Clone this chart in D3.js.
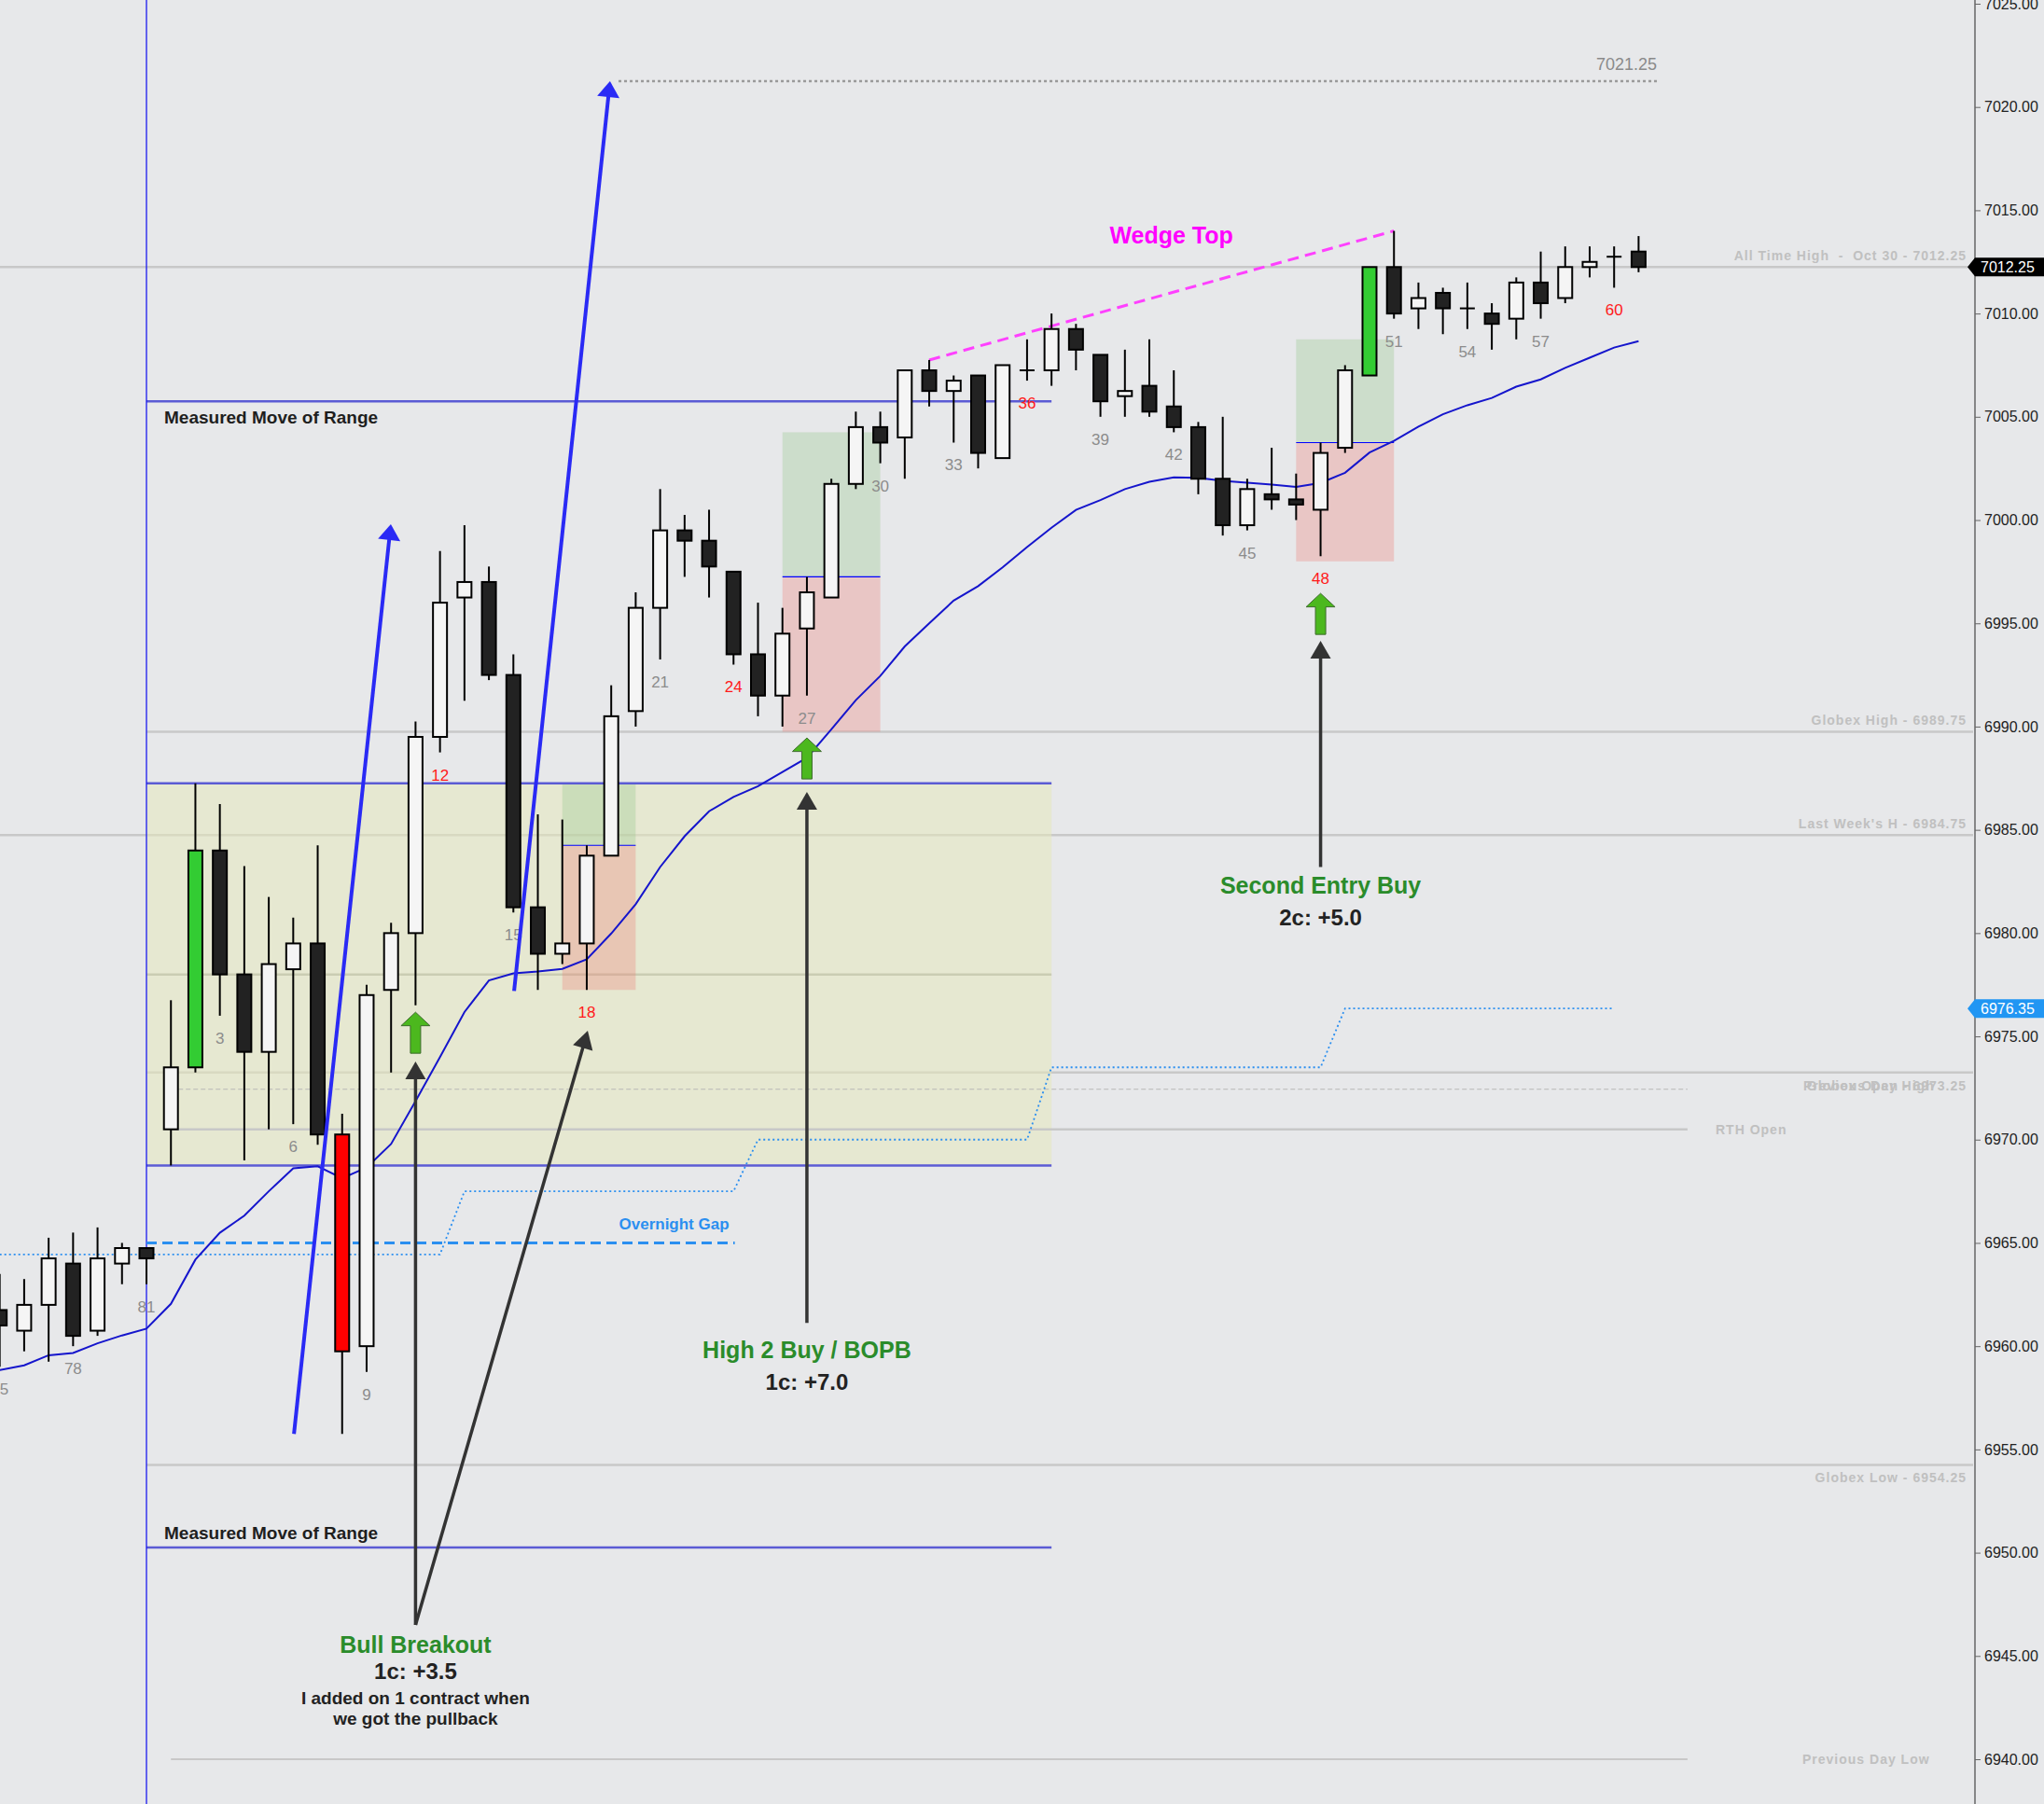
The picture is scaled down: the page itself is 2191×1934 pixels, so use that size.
<!DOCTYPE html>
<html><head><meta charset="utf-8">
<script src="https://cdn.jsdelivr.net/npm/d3@7"></script>
<style>html,body{margin:0;padding:0;background:#e7e8ea;overflow:hidden}svg{display:block;font-family:"Liberation Sans",Arial,sans-serif}</style>
</head><body><svg id="c" width="2191" height="1934"></svg>
<script>
// ---------- DATA ----------
const barIndex = d3.range(-6, 62); // -6..0 = prior session bars 75..81, 1..61 = today
const barNumbers = barIndex.map(i => i <= 0 ? 81 + i : i);
const opens = [6961.75,6960.75,6962.0,6964.0,6960.75,6964.0,6964.75,
 6970.5,6973.5,6984.0,6978.0,6974.25,6978.25,6979.5,6970.25,6960.0,6977.25,
 6980.0,6989.5,6996.25,6997.0,6992.5,6981.25,6979.0,6979.5,6983.75,6990.75,
 6995.75,6999.5,6999.0,6997.5,6993.5,6991.5,6994.75,6996.25,7001.75,7004.5,
 7004.0,7007.25,7006.25,7007.0,7003.0,7007.25,7007.25,7009.25,7008.0,7006.0,
 7006.5,7005.5,7004.5,7002.0,6999.75,7001.25,7001.0,7000.5,7003.5,7007.0,
 7012.25,7010.25,7011.0,7010.25,7010.0,7009.75,7011.5,7010.75,7012.25,7012.75,7013.0];
const highs = [6963.5,6963.25,6965.25,6965.5,6965.75,6965.0,6964.75,
 6976.75,6987.25,6986.25,6983.25,6981.75,6980.75,6984.25,6971.25,6977.5,6980.5,
 6990.25,6998.5,6999.75,6997.75,6993.5,6985.75,6985.5,6984.25,6992.0,6996.5,
 7001.5,7000.25,7000.5,6997.5,6996.0,6995.75,6997.25,7002.0,7005.25,7005.25,
 7007.25,7007.75,7007.0,7007.0,7007.5,7008.75,7010.0,7009.5,7008.0,7008.25,
 7008.75,7007.25,7004.75,7005.0,7002.0,7003.5,7002.25,7003.75,7007.5,7012.25,
 7014.0,7011.5,7011.25,7011.5,7010.5,7011.75,7013.0,7013.25,7013.25,7013.25,7013.75];
const lows = [6959.0,6959.75,6959.25,6960.0,6960.5,6963.0,6963.0,
 6968.75,6973.25,6976.0,6969.0,6970.5,6970.75,6969.75,6955.75,6958.75,6973.25,
 6976.5,6988.75,6991.25,6992.25,6981.0,6977.25,6978.5,6977.25,6983.75,6990.0,
 6993.25,6997.25,6996.25,6993.0,6990.5,6990.0,6991.5,6996.25,7001.5,7002.75,
 7002.0,7005.5,7003.75,7002.5,7003.0,7006.75,7006.5,7007.25,7005.0,7005.0,
 7005.0,7004.25,7001.25,6999.25,6999.5,7000.5,7000.0,6998.25,7003.25,7007.0,
 7009.75,7009.25,7009.0,7009.25,7008.25,7008.75,7009.75,7010.5,7011.75,7011.25,7012.0];
const closes = [6961.0,6962.0,6964.25,6960.5,6964.25,6964.75,6964.25,
 6973.5,6984.0,6978.0,6974.25,6978.5,6979.5,6970.25,6959.75,6977.0,6980.0,
 6989.5,6996.0,6997.0,6992.5,6981.25,6979.0,6979.5,6983.75,6990.5,6995.75,
 6999.5,6999.0,6997.75,6993.5,6991.5,6994.5,6996.5,7001.75,7004.5,7003.75,
 7007.25,7006.25,7006.75,7003.25,7007.5,7007.25,7009.25,7008.25,7005.75,7006.25,
 7005.25,7004.5,7002.0,6999.75,7001.5,7001.0,7000.75,7003.25,7007.25,7012.25,
 7010.0,7010.75,7010.25,7010.25,7009.5,7011.5,7010.5,7012.25,7012.5,7012.75,7012.25];
const emaValues = [6958.84,6959.07,6959.56,6959.67,6960.14,6960.52,6960.85,
 6962.05,6964.19,6965.49,6966.32,6967.5,6968.61,6968.71,6968.13,6968.65,6969.79,
 6971.86,6974.0,6976.18,6977.71,6978.05,6978.14,6978.27,6978.73,6979.98,6981.4,
 6983.2,6984.69,6985.9,6986.59,6987.11,6987.8,6988.49,6989.87,6991.28,6992.45,
 6993.88,6995.0,6996.1,6996.8,6997.71,6998.69,6999.63,7000.49,7000.97,7001.5,
 7001.85,7002.07,7002.05,7001.9,7001.81,7001.72,7001.61,7001.8,7002.29,7003.27,
 7003.83,7004.52,7005.12,7005.56,7005.91,7006.46,7006.81,7007.37,7007.86,7008.35,7008.66];
const specialColors = {2:'#33cc33', 8:'#ff0000', 50:'#33cc33'};
const redLabelBars = [12,18,24,36,48,60];

// price levels (gray, to the price axis)
const levelNames  = ["All Time High  -  Oct 30 - 7012.25","Last Week's H - 6984.75","Globex High - 6989.75","Globex Open - 6973.25","Globex Low - 6954.25"];
const levelValues = [7012.25, 6984.75, 6989.75, 6973.25, 6954.25];
const levelFromEdge = [true, true, false, false, false];
const levelLabelAbove = [true, true, true, false, false];
// short session levels
const rthOpen = 6970.5, globexOpenDash = 6972.44, prevDayLow = 6940.0;
// opening range & measured moves
const rangeHigh = 6987.25, rangeLow = 6968.75, rangeMid = 6978.0;
const mmUp = 7005.75, mmDown = 6950.25;
const overnightGap = 6965.0;
// dotted step line (hourly)
const stepBars   = [-6, 12, 13, 24, 25, 36, 37, 48, 49, 60];
const stepValues = [6964.44,6964.44,6967.5,6967.5,6970.0,6970.0,6973.5,6973.5,6976.35,6976.35];
// trade boxes
const boxStart = [17, 26, 47], boxEnd = [20, 30, 51];
const boxEntry = [6984.25, 6997.25, 7003.75];
const boxTop = [6987.25, 7004.25, 7008.75];
const boxBottom = [6977.25, 6989.75, 6998.0];
// measured move arrows [bar0, price0, bar1, price1]
const mmArrows = [[6.03, 6955.75, 9.99, 6999.8], [15.03, 6977.2, 18.95, 7021.25]];
const target = 7021.25;
// wedge
const wedge = [32, 7007.75, 51, 7014.0];
// black arrows [bar0, price0, bar1, price1]
const blackArrows = [[11, 6946.5, 11, 6973.78],[11, 6946.5, 18.04, 6975.27],[27, 6961.13, 27, 6986.84],[48, 6983.2, 48, 6994.15]];
const greenArrowBars = [11, 27, 48], greenArrowTips = [6976.17, 6989.45, 6996.45];
const priceTicks = d3.range(6940, 7025.01, 5);
const lastPrice = 7012.25, bluePrice = 6976.35;

// ---------- SCALES ----------
const W = 2191, H = 1934, AX = 2117;
const x = d3.scaleLinear().domain([-6, 61]).range([157 - 6*26.22, 157 + 61*26.22]);
const y = d3.scaleLinear().domain([6940, 7025]).range([1886, 4]);

const svg = d3.select('#c');
svg.append('rect').attr('width', W).attr('height', H).attr('fill', '#e7e8ea');

const gray = '#c8c8c8', labelGray = '#c0c0c0';
// gray level lines
const lv = svg.append('g');
levelValues.forEach((v, k) => {
  lv.append('line').attr('x1', levelFromEdge[k] ? 0 : x(0)).attr('x2', AX - 2)
    .attr('y1', y(v)).attr('y2', y(v)).attr('stroke', gray).attr('stroke-width', 2.5);
});

// opening range box
svg.append('rect').attr('x', x(0)).attr('width', x(37) - x(0))
  .attr('y', y(rangeHigh)).attr('height', y(rangeLow) - y(rangeHigh))
  .attr('fill', 'rgba(229,232,188,0.55)');
svg.append('line').attr('x1', x(0)).attr('x2', x(37)).attr('y1', y(rangeMid)).attr('y2', y(rangeMid))
  .attr('stroke', 'rgba(120,125,90,0.25)').attr('stroke-width', 2.5);

// session lines
[[rthOpen, null, 2.5], [globexOpenDash, '5,3', 1], [prevDayLow, null, 2]].forEach(([v, dash, w]) => {
  svg.append('line').attr('x1', x(1)).attr('x2', x(63)).attr('y1', y(v)).attr('y2', y(v))
    .attr('stroke', dash ? '#b8b8b8' : gray).attr('stroke-width', w).attr('stroke-dasharray', dash);
});

// trade boxes
boxStart.forEach((b, k) => {
  svg.append('rect').attr('x', x(b)).attr('width', x(boxEnd[k]) - x(b))
    .attr('y', y(boxTop[k])).attr('height', y(boxEntry[k]) - y(boxTop[k]))
    .attr('fill', 'rgba(141,195,134,0.3)');
  svg.append('rect').attr('x', x(b)).attr('width', x(boxEnd[k]) - x(b))
    .attr('y', y(boxEntry[k])).attr('height', y(boxBottom[k]) - y(boxEntry[k]))
    .attr('fill', 'rgba(238,119,114,0.3)');
  svg.append('line').attr('x1', x(b)).attr('x2', x(boxEnd[k])).attr('y1', y(boxEntry[k])).attr('y2', y(boxEntry[k]))
    .attr('stroke', '#0000ff').attr('stroke-width', 1.2);
});

// range + measured move lines
const rangeBlue = '#5b5bd4';
[rangeHigh, rangeLow, mmUp, mmDown].forEach(v => {
  svg.append('line').attr('x1', x(0)).attr('x2', x(37)).attr('y1', y(v)).attr('y2', y(v))
    .attr('stroke', rangeBlue).attr('stroke-width', 2.5);
});
// session divider
svg.append('line').attr('x1', x(0)).attr('x2', x(0)).attr('y1', 0).attr('y2', H)
  .attr('stroke', '#1a1aee').attr('stroke-width', 1.3);

// overnight gap
svg.append('line').attr('x1', x(0)).attr('x2', x(24.05)).attr('y1', y(overnightGap)).attr('y2', y(overnightGap))
  .attr('stroke', '#2b8ff0').attr('stroke-width', 3).attr('stroke-dasharray', '11,6');
// dotted step line
svg.append('path').datum(stepBars.map((b, k) => [b, stepValues[k]]))
  .attr('d', d3.line().x(d => x(d[0])).y(d => y(d[1])))
  .attr('fill', 'none').attr('stroke', '#2b8ff0').attr('stroke-width', 1.8).attr('stroke-dasharray', '2,3');

// EMA
svg.append('path').datum(barIndex.map((b, k) => [b, emaValues[k]]))
  .attr('d', d3.line().x(d => x(d[0])).y(d => y(d[1])))
  .attr('fill', 'none').attr('stroke', '#1515cc').attr('stroke-width', 2);

// target dotted line
svg.append('line').attr('x1', x(19.3)).attr('x2', x(61.8)).attr('y1', y(target)).attr('y2', y(target))
  .attr('stroke', '#9a9a9a').attr('stroke-width', 2.5).attr('stroke-dasharray', '3,3');
svg.append('text').attr('x', x(61.75)).attr('y', y(target) - 12).attr('text-anchor', 'end')
  .attr('font-size', 18).attr('fill', '#8a8a8a').text(target.toFixed(2));

// wedge line
svg.append('line').attr('x1', x(wedge[0])).attr('y1', y(wedge[1])).attr('x2', x(wedge[2])).attr('y2', y(wedge[3]))
  .attr('stroke', '#ff40ff').attr('stroke-width', 3).attr('stroke-dasharray', '12,7');

// candles
const cg = svg.append('g');
barIndex.forEach((b, k) => {
  const cx = x(b), o = opens[k], c = closes[k];
  cg.append('line').attr('x1', cx).attr('x2', cx).attr('y1', y(highs[k])).attr('y2', y(lows[k]))
    .attr('stroke', '#000').attr('stroke-width', 2);
  if (o === c) {
    cg.append('line').attr('x1', cx - 8).attr('x2', cx + 8).attr('y1', y(o)).attr('y2', y(o))
      .attr('stroke', '#000').attr('stroke-width', 2);
  } else {
    const fill = specialColors[b] || (c > o ? '#f5f5f5' : '#222222');
    cg.append('rect').attr('x', cx - 7.5).attr('width', 15)
      .attr('y', y(Math.max(o, c))).attr('height', Math.max(2, y(Math.min(o, c)) - y(Math.max(o, c))))
      .attr('fill', fill).attr('stroke', '#000').attr('stroke-width', 2);
  }
});
// bar numbers
barIndex.forEach((b, k) => {
  const n = barNumbers[k];
  if (n % 3 !== 0) return;
  svg.append('text').attr('x', x(b)).attr('y', y(lows[k]) + 24).attr('dy', '0.35em')
    .attr('text-anchor', 'middle').attr('font-size', 17)
    .attr('fill', redLabelBars.includes(n) && b > 0 ? '#ff1a1a' : '#8c8c8c').text(n);
});

function arrowHead(x1, y1, x2, y2, len, hw, color) {
  const dx = x2 - x1, dy = y2 - y1, d = Math.hypot(dx, dy), ux = dx / d, uy = dy / d;
  const bx = x2 - ux * len, by = y2 - uy * len, px = -uy, py = ux;
  svg.append('path').attr('d', `M${x2},${y2}L${bx + px*hw},${by + py*hw}L${bx - px*hw},${by - py*hw}Z`).attr('fill', color);
  return [bx + ux * 2, by + uy * 2];
}
// measured move arrows
mmArrows.forEach(a => {
  const x1 = x(a[0]), y1 = y(a[1]), x2 = x(a[2]), y2 = y(a[3]);
  const [bx, by] = arrowHead(x1, y1, x2, y2, 17, 12, '#2a2af5');
  svg.append('line').attr('x1', x1).attr('y1', y1).attr('x2', bx).attr('y2', by)
    .attr('stroke', '#2a2af5').attr('stroke-width', 4);
});
// black arrows
blackArrows.forEach(a => {
  const x1 = x(a[0]), y1 = y(a[1]), x2 = x(a[2]), y2 = y(a[3]);
  const [bx, by] = arrowHead(x1, y1, x2, y2, 19, 11, '#333333');
  svg.append('line').attr('x1', x1).attr('y1', y1).attr('x2', bx).attr('y2', by)
    .attr('stroke', '#333333').attr('stroke-width', 3.5);
});
// green arrows
greenArrowBars.forEach((b, k) => {
  const tx = x(b), ty = y(greenArrowTips[k]);
  const pts = [[0,0],[15.5,14.5],[5.5,14.5],[5.5,44],[-5.5,44],[-5.5,14.5],[-15.5,14.5]];
  svg.append('polygon').attr('points', pts.map(p => [tx + p[0], ty + p[1]].join(',')).join(' '))
    .attr('fill', '#4cb81e').attr('stroke', '#3d6b2c').attr('stroke-width', 1);
});

// annotation texts
function txt(xx, yy, s, size, color, anchor, weight) {
  return svg.append('text').attr('x', xx).attr('y', yy).attr('font-size', size).attr('fill', color)
    .attr('text-anchor', anchor || 'middle').attr('font-weight', weight || 'bold').text(s);
}
txt(x(0) + 19, y(mmUp) + 24, 'Measured Move of Range', 19, '#1e1e1e', 'start');
txt(x(0) + 19, y(mmDown) - 9, 'Measured Move of Range', 19, '#1e1e1e', 'start');
txt(x(24.05) - 6, y(overnightGap) - 14, 'Overnight Gap', 17, '#2b8ff0', 'end');
txt(x(41.9), y(7014.0) + 13, 'Wedge Top', 25, '#ff00ff');
const bb = blackArrows[0];
txt(x(bb[0]), y(bb[1]) + 30, 'Bull Breakout', 25, '#2b8c2b');
txt(x(bb[0]), y(bb[1]) + 58, '1c: +3.5', 24, '#222');
txt(x(bb[0]), y(bb[1]) + 85, 'I added on 1 contract when', 19, '#222');
txt(x(bb[0]), y(bb[1]) + 107, 'we got the pullback', 19, '#222');
const h2 = blackArrows[2];
txt(x(h2[0]), y(h2[1]) + 38, 'High 2 Buy / BOPB', 25, '#2b8c2b');
txt(x(h2[0]), y(h2[1]) + 72, '1c: +7.0', 24, '#222');
const se = blackArrows[3];
txt(x(se[0]), y(se[1]) + 28, 'Second Entry Buy', 25, '#2b8c2b');
txt(x(se[0]), y(se[1]) + 62, '2c: +5.0', 24, '#222');

// level labels
const lblStyle = t => t.attr('font-size', 14).attr('font-weight', 'bold').attr('fill', labelGray)
  .attr('letter-spacing', 1).style('white-space', 'pre');
levelValues.forEach((v, k) => {
  lblStyle(svg.append('text').attr('x', 2108).attr('y', levelLabelAbove[k] ? y(v) - 7 : y(v) + 19)
    .attr('text-anchor', 'end').text(levelNames[k]));
});
lblStyle(svg.append('text').attr('x', 1933).attr('y', y(6973.25) + 19).attr('text-anchor', 'start').text('Previous Day High'));
lblStyle(svg.append('text').attr('x', 1839).attr('y', y(rthOpen) + 5).text('RTH Open'));
lblStyle(svg.append('text').attr('x', 1932).attr('y', y(prevDayLow) + 5).text('Previous Day Low'));

// price axis
svg.append('line').attr('x1', AX).attr('x2', AX).attr('y1', 0).attr('y2', H).attr('stroke', '#666').attr('stroke-width', 1.5);
const ax = svg.append('g').attr('transform', `translate(${AX},0)`)
  .call(d3.axisRight(y).tickValues(priceTicks).tickFormat(d => d.toFixed(2)).tickSize(6).tickPadding(4));
ax.select('.domain').remove();
ax.selectAll('line').attr('stroke', '#666');
ax.selectAll('text').attr('font-size', 16).attr('fill', '#222').attr('font-family', '"Liberation Sans",Arial,sans-serif');

function priceTag(v, color) {
  const yy = y(v);
  svg.append('path').attr('d', `M${AX - 8},${yy}L${AX},${yy - 10}L${W},${yy - 10}L${W},${yy + 10}L${AX},${yy + 10}Z`).attr('fill', color);
  svg.append('text').attr('x', AX + 6).attr('y', yy).attr('dy', '0.36em').attr('font-size', 16).attr('fill', '#fff').text(v.toFixed(2));
}
priceTag(lastPrice, '#000');
priceTag(bluePrice, '#2196f3');
</script></body></html>
